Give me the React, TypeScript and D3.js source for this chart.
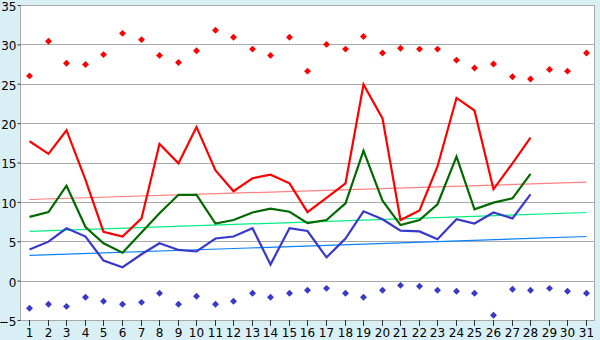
import React, { useEffect, useRef } from "react";
import * as d3 from "d3";

const days = ["1", "2", "3", "4", "5", "6", "7", "8", "9", "10", "11", "12", "13", "14", "15", "16",
  "17", "18", "19", "20", "21", "22", "23", "24", "25", "26", "27", "28", "29", "30", "31"];

const yTicks = [-5, 0, 5, 10, 15, 20, 25, 30, 35];

// diamonds
const maxPoints = [26.0, 30.4, 27.6, 27.45, 28.7, 31.4, 30.6, 28.6, 27.7, 29.2, 31.8, 30.9, 29.4, 28.6, 30.9, 26.6,
  30.0, 29.4, 31.0, 28.9, 29.5, 29.4, 29.4, 28.0, 27.0, 27.5, 25.9, 25.6, 26.8, 26.6, 28.9];
const minPoints = [-3.5, -3.0, -3.27, -2.12, -2.63, -3.0, -2.76, -1.61, -3.0, -1.99, -3.0, -2.63, -1.61, -2.12, -1.61, -1.23,
  -0.98, -1.61, -2.12, -1.23, -0.6, -0.72, -1.23, -1.36, -1.61, -4.4, -1.1, -1.23, -0.98, -1.36, -1.61];

// lines (days 1-28)
const redLine = [17.7, 16.1, 19.1, 12.8, 6.2, 5.6, 7.9, 17.35, 14.9, 19.5, 14.0, 11.35, 13.0, 13.45, 12.35, 8.7,
  10.5, 12.35, 24.9, 20.6, 7.7, 8.9, 14.5, 23.2, 21.6, 11.6, 14.9, 18.15];
const greenLine = [8.1, 8.7, 12.05, 6.8, 4.75, 3.55, 6.1, 8.55, 10.9, 10.9, 7.25, 7.7, 8.65, 9.15, 8.75, 7.3,
  7.7, 9.8, 16.5, 10.15, 7.05, 7.7, 9.7, 15.75, 9.05, 9.9, 10.45, 13.55];
const blueLine = [3.95, 4.95, 6.65, 5.6, 2.55, 1.7, 3.35, 4.75, 3.9, 3.7, 5.35, 5.6, 6.65, 2.05, 6.65, 6.3,
  2.95, 5.35, 8.8, 7.8, 6.35, 6.25, 5.25, 7.8, 7.25, 8.65, 7.9, 10.95];

// trend lines: value at day 1 and day 31
const redTrend = [10.3, 12.5];
const greenTrend = [6.25, 8.65];
const blueTrend = [3.2, 5.6];

const W = 600, H = 340;
const margin = { top: 5, right: 5, bottom: 20, left: 20 };

export default function App() {
  const ref = useRef<SVGSVGElement>(null);

  useEffect(() => {
    const svg = d3.select(ref.current);
    svg.selectAll("*").remove();

    const x = d3.scaleBand().domain(days).range([margin.left, W - margin.right]);
    const y = d3.scaleLinear().domain([-5, 35]).range([H - margin.bottom, margin.top]);
    const cx = (d: string) => Math.round(x(d)! + x.bandwidth() / 2) + 0.5;

    svg.append("rect").attr("width", W).attr("height", H).attr("fill", "#d9eff6");
    svg.append("rect")
      .attr("x", margin.left).attr("y", margin.top)
      .attr("width", W - margin.left - margin.right)
      .attr("height", H - margin.top - margin.bottom)
      .attr("fill", "#ffffff");

    // grid
    svg.append("g")
      .selectAll("line")
      .data(yTicks)
      .join("line")
      .attr("x1", margin.left).attr("x2", W - margin.right)
      .attr("y1", (d) => Math.round(y(d)) + 0.5).attr("y2", (d) => Math.round(y(d)) + 0.5)
      .attr("stroke", "#aaaaaa");

    svg.append("rect")
      .attr("x", margin.left + 0.5).attr("y", margin.top + 0.5)
      .attr("width", W - margin.left - margin.right - 1)
      .attr("height", H - margin.top - margin.bottom)
      .attr("fill", "none")
      .attr("stroke", "#aaaaaa");

    // axes
    const yAxis = svg.append("g")
      .attr("transform", `translate(${margin.left + 0.5},0)`)
      .call(d3.axisLeft(y).tickValues(yTicks).tickSize(3).tickPadding(1).tickFormat(d3.format("d")));
    yAxis.select(".domain").remove();
    yAxis.selectAll(".tick line").attr("stroke", "#333");
    yAxis.selectAll("text")
      .attr("dy", "0.45em")
      .attr("fill", "#000")
      .style("font-family", "DejaVu Sans, Verdana, sans-serif")
      .style("font-size", "12px");

    const xAxis = svg.append("g")
      .attr("transform", `translate(0,${H - margin.bottom})`)
      .call(d3.axisBottom(x).tickSize(6));
    xAxis.select(".domain").remove();
    xAxis.selectAll(".tick").attr("transform", (d: any) => `translate(${cx(d)},0)`);
    xAxis.selectAll(".tick line").attr("stroke", "#333");
    xAxis.selectAll("text")
      .attr("y", 17).attr("dy", 0)
      .attr("fill", "#000")
      .style("font-family", "DejaVu Sans, Verdana, sans-serif")
      .style("font-size", "12px");

    // trend lines
    const trends: [number[], string][] = [
      [redTrend, "#ff8080"],
      [greenTrend, "#00f080"],
      [blueTrend, "#0a80ff"],
    ];
    trends.forEach(([t, c]) => {
      svg.append("line")
        .attr("x1", cx(days[0])).attr("x2", cx(days[days.length - 1]))
        .attr("y1", y(t[0])).attr("y2", y(t[1]))
        .attr("stroke", c).attr("stroke-width", 1.2);
    });

    // lines
    const line = d3.line<number>()
      .x((_, i) => cx(days[i]))
      .y((d) => y(d));
    const series: [number[], string][] = [
      [blueLine, "#3838cc"],
      [greenLine, "#006a00"],
      [redLine, "#ff0000"],
    ];
    series.forEach(([s, c]) => {
      svg.append("path")
        .datum(s)
        .attr("d", line)
        .attr("fill", "none")
        .attr("stroke", c)
        .attr("stroke-width", 2.2)
        .attr("stroke-linejoin", "miter");
    });

    // diamonds
    const diamond = d3.symbol(d3.symbolSquare, 24);
    const points: [number[], string][] = [
      [maxPoints, "#ff0000"],
      [minPoints, "#3838cc"],
    ];
    points.forEach(([p, c]) => {
      svg.append("g")
        .selectAll("path")
        .data(p)
        .join("path")
        .attr("d", diamond)
        .attr("transform", (d, i) => `translate(${cx(days[i])},${y(d)}) rotate(45)`)
        .attr("fill", c);
    });
  }, []);

  return (
    <svg
      ref={ref}
      width={W}
      height={H}
      style={{ position: "absolute", left: 0, top: 0, display: "block" }}
    />
  );
}
